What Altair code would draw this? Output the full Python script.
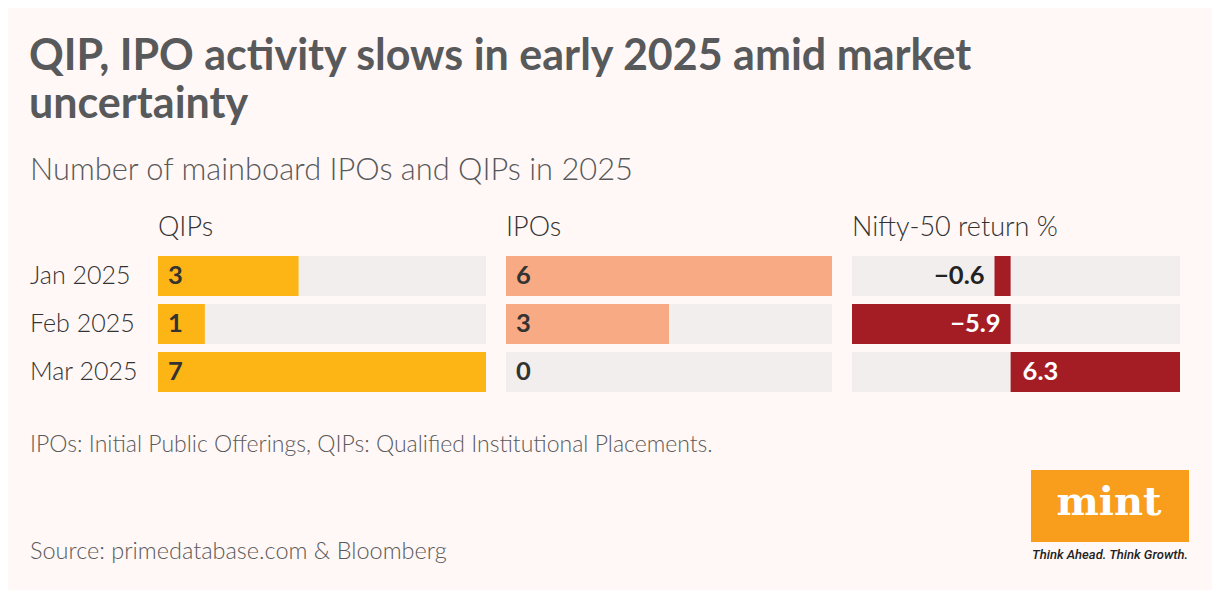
import altair as alt
import pandas as pd

# ---------------- data ----------------
months = ["Jan 2025", "Feb 2025", "Mar 2025"]
qips = [3, 1, 7]
ipos = [6, 3, 0]
nifty = [-0.6, -5.9, 6.3]
nifty_labels = ["\u22120.6", "\u22125.9", "6.3"]

title_lines = ["QIP, IPO activity slows in early 2025 amid market", "uncertainty"]
subtitle = "Number of mainboard IPOs and QIPs in 2025"
headers = ["QIPs", "IPOs", "Nifty-50 return %"]
footnote = "IPOs: Initial Public Offerings, QIPs: Qualified Institutional Placements."
source = "Source: primedatabase.com & Bloomberg"
logo_word = "mint"
logo_tag = "Think Ahead. Think Growth."

# ---------------- style ----------------
BG = "#fff8f7"
TRACK = "#f2eeee"
QC = "#fdb515"
IC = "#f8aa84"
NC = "#a51d24"
DARK = "#333333"
TITLE_C = "#58595b"
FONT = "Lato"
W, H = 1204, 582
OFF = 8


def px(v):
    return v - OFF


inside = [abs(v) >= 1 for v in nifty]
df = pd.DataFrame({
    "month": months,
    "qip": qips,
    "ipo": ipos,
    "nifty": nifty,
    "nlabel": nifty_labels,
    "qlabel": [str(v) for v in qips],
    "ilabel": [str(v) for v in ipos],
    "nanchor": [0 if ins else v for v, ins in zip(nifty, inside)],
    "ninside": inside,
    "neg": [v < 0 for v in nifty],
})

qs = alt.Scale(domain=[0, max(qips)], range=[px(158), px(486)], nice=False)
iscale = alt.Scale(domain=[0, max(ipos)], range=[px(506), px(832)], nice=False)
ns = alt.Scale(domain=[min(nifty), max(nifty)], range=[px(852), px(1180)], nice=False)
ys = alt.Scale(domain=months, range=[px(252), px(396)], paddingInner=1 / 6, paddingOuter=1 / 12)
Y = alt.Y("month:N", scale=ys, axis=None)

base = alt.Chart(df)

layers = []
# tracks
layers.append(base.mark_bar(color=TRACK).encode(
    x=alt.XDatum(0, type="quantitative", scale=qs, axis=None),
    x2=alt.X2Datum(max(qips)), y=Y))
layers.append(base.mark_bar(color=TRACK).encode(
    x=alt.XDatum(0, type="quantitative", scale=iscale, axis=None),
    x2=alt.X2Datum(max(ipos)), y=Y))
layers.append(base.mark_bar(color=TRACK).encode(
    x=alt.XDatum(min(nifty), type="quantitative", scale=ns, axis=None),
    x2=alt.X2Datum(max(nifty)), y=Y))
# bars
layers.append(base.mark_bar(color=QC).encode(x=alt.X("qip:Q", scale=qs, axis=None), y=Y))
layers.append(base.mark_bar(color=IC).encode(x=alt.X("ipo:Q", scale=iscale, axis=None), y=Y))
layers.append(base.mark_bar(color=NC).encode(x=alt.X("nifty:Q", scale=ns, axis=None), y=Y))

# value labels
lab = dict(font=FONT, fontSize=25.5, fontWeight="bold", baseline="middle")
layers.append(base.mark_text(align="left", dx=10, color=DARK, **lab).encode(
    x=alt.XDatum(0, type="quantitative", scale=qs, axis=None), y=Y, text="qlabel:N"))
layers.append(base.mark_text(align="left", dx=10, color=DARK, **lab).encode(
    x=alt.XDatum(0, type="quantitative", scale=iscale, axis=None), y=Y, text="ilabel:N"))
layers.append(base.transform_filter("datum.neg").mark_text(align="right", dx=-10, **lab).encode(
    x=alt.X("nanchor:Q", scale=ns, axis=None), y=Y, text="nlabel:N",
    color=alt.condition("datum.ninside", alt.value("#ffffff"), alt.value("#222222"))))
layers.append(base.transform_filter("!datum.neg").mark_text(align="left", dx=12, **lab).encode(
    x=alt.X("nanchor:Q", scale=ns, axis=None), y=Y, text="nlabel:N",
    color=alt.condition("datum.ninside", alt.value("#ffffff"), alt.value("#222222"))))

# row labels
layers.append(base.mark_text(align="left", baseline="middle", font=FONT, fontSize=25,
                             fontWeight=300, color=DARK).encode(
    x=alt.value(px(30)), y=Y, text="month:N"))

one = alt.Data(values=[{}])


def txt(t, x, y, **kw):
    return alt.Chart(one).mark_text(text=t, align=kw.pop("align", "left"),
                                    baseline=kw.pop("baseline", "alphabetic"), **kw).encode(
        x=alt.value(px(x)), y=alt.value(px(y)))


layers.append(txt(title_lines[0], 29, 70, font=FONT, fontSize=43, fontWeight="bold", color=TITLE_C))
layers.append(txt(title_lines[1], 29, 118, font=FONT, fontSize=43, fontWeight="bold", color=TITLE_C))
layers.append(txt(subtitle, 30, 180, font=FONT, fontSize=30.8, fontWeight=300, color=TITLE_C))
for h, hx in zip(headers, [158, 506, 852]):
    layers.append(txt(h, hx, 236, font=FONT, fontSize=27, fontWeight=300, color=DARK))
layers.append(txt(footnote, 30, 452, font=FONT, fontSize=23, fontWeight=300, color="#5a5a5a"))
layers.append(txt(source, 30, 559, font=FONT, fontSize=23.5, fontWeight=300, color="#5a5a5a"))

# logo
layers.append(alt.Chart(one).mark_rect(color="#f99d1c").encode(
    x=alt.value(px(1031)), x2=alt.value(px(1189)), y=alt.value(px(470)), y2=alt.value(px(542))))
layers.append(txt(logo_word, 1109, 515, align="center", font="DejaVu Serif", fontSize=40,
                  fontWeight="bold", color="#ffffff"))
layers.append(txt(logo_tag, 1110, 559, align="center", font="Roboto", fontSize=13,
                  fontStyle="italic", fontWeight=500, color="#222222"))

chart = alt.layer(*layers).resolve_scale(x="independent").properties(
    width=W, height=H, background=BG, padding=0,
    autosize=alt.AutoSizeParams(type="none"),
).configure_view(stroke=None)

chart.save("out.html", embed_options={"renderer": "svg", "actions": False})
